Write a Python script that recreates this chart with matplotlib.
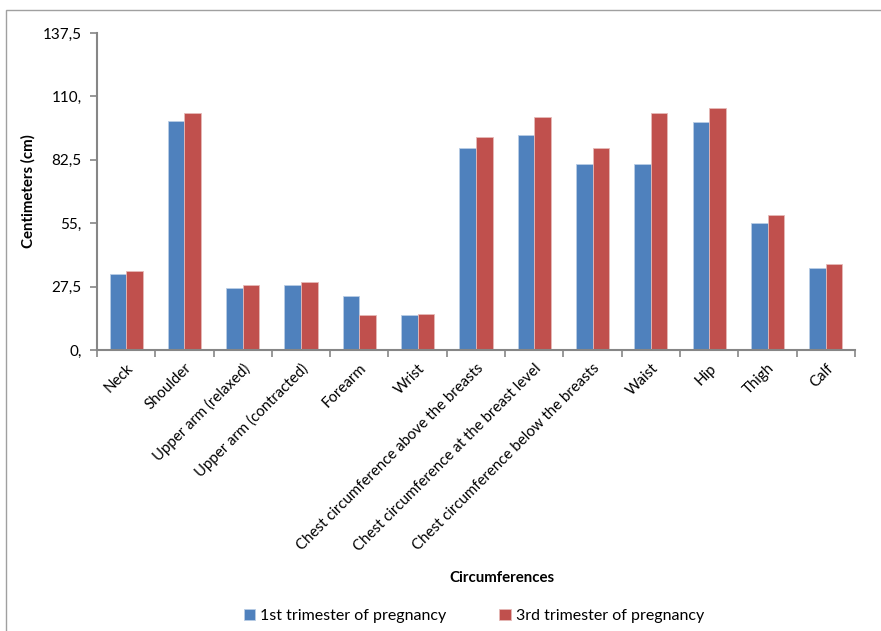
import matplotlib
matplotlib.use("Agg")
import matplotlib.pyplot as plt
import numpy as np
from matplotlib.patches import Rectangle
from matplotlib.ticker import FixedLocator

categories = ["Neck", "Shoulder", "Upper arm (relaxed)", "Upper arm (contracted)",
              "Forearm", "Wrist", "Chest circumference above the breasts",
              "Chest circumference at the breast level",
              "Chest circumference below the breasts", "Waist", "Hip", "Thigh", "Calf"]
first_trimester = [32.9, 99.3, 26.8, 28.1, 23.6, 15.1, 87.6, 93.2, 80.5, 80.5, 98.9, 55.0, 35.5]
third_trimester = [34.3, 102.6, 28.1, 29.5, 15.1, 15.6, 92.4, 101.0, 87.6, 102.6, 104.9, 58.5, 37.5]
series_names = ["1st trimester of pregnancy", "3rd trimester of pregnancy"]
y_ticks = [0, 27.5, 55, 82.5, 110, 137.5]
y_tick_labels = ["0,", "27,5", "55,", "82,5", "110,", "137,5"]

plt.rcParams["font.family"] = ["Lato", "DejaVu Sans"]
axis_gray = "#868686"

fig = plt.figure(figsize=(8.81, 6.31), dpi=100)
ax = fig.add_axes([0.110, 0.4453, 0.8605, 0.5024])

x = np.arange(len(categories))
w = 0.284
ax.bar(x - w / 2, first_trimester, width=w, color="#4F81BD", edgecolor="#B9CDE5",
       linewidth=0.6, label=series_names[0])
ax.bar(x + w / 2, third_trimester, width=w, color="#C0504D", edgecolor="#E6B9B8",
       linewidth=0.6, label=series_names[1])

ax.set_xlim(-0.5, len(categories) - 0.5)
ax.set_ylim(0, 137.5)
ax.set_yticks(y_ticks)
ax.set_yticklabels(y_tick_labels, fontsize=11)
ax.set_xticks(x)
ax.set_xticklabels(categories, rotation=45, ha="right", va="top",
                   rotation_mode="anchor", fontsize=10.8)
ax.xaxis.set_minor_locator(FixedLocator(np.arange(-0.5, len(categories), 1.0)))
ax.tick_params(axis="x", which="major", length=0, pad=8)
ax.tick_params(axis="x", which="minor", length=5, width=1.2, color=axis_gray, direction="out")
ax.tick_params(axis="y", length=5, width=1.2, color=axis_gray, direction="out", pad=6)

for side in ("top", "right"):
    ax.spines[side].set_visible(False)
for side in ("left", "bottom"):
    ax.spines[side].set_color(axis_gray)
    ax.spines[side].set_linewidth(1.5)

fig.text(0.032, 0.697, "Centimeters (cm)", rotation=90, ha="center", va="center",
         fontsize=10.8, fontweight="bold")
fig.text(0.570, 0.084, "Circumferences", ha="center", va="center",
         fontsize=10.8, fontweight="bold")

fig.legend(loc="center", bbox_to_anchor=(0.538, 0.024), ncol=2, frameon=False,
           fontsize=11.5, handlelength=0.7, handleheight=0.7, columnspacing=3.3,
           handletextpad=0.35)

fig.patches.append(Rectangle((6 / 881, -0.1), 1.2, 1 - 10 / 631 + 0.1,
                             transform=fig.transFigure, fill=False,
                             edgecolor="#A0A0A0", linewidth=1.0))

fig.savefig("out.png", dpi=100)
